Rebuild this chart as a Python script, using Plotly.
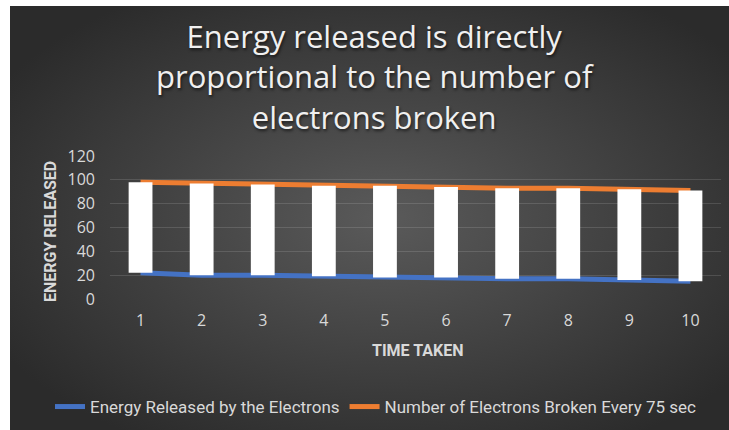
import base64
import plotly.graph_objects as go

# Data
time_taken = [1, 2, 3, 4, 5, 6, 7, 8, 9, 10]
energy_released = [22, 20, 20, 19, 18, 18, 17, 17, 16, 15]
electrons_broken = [98, 97, 96, 95, 95, 94, 93, 93, 92, 91]
y_ticks = [0, 20, 40, 60, 80, 100, 120]
title_lines = ["Energy released is directly",
               "proportional to the number of",
               "electrons broken"]

W, H = 729, 430
# plot-area box in pixels
L, R, T, B = 110, 721, 156, 299
pw, ph = R - L, B - T


def px_x(x):
    return (x - L) / pw


def px_y(y):
    return (B - y) / ph


BLUE = "#4472C4"
ORANGE = "#ED7D31"
TXT = "#d9d9d9"
FONT = "Open Sans, Lato, sans-serif"
SMALL = "Roboto, Open Sans, sans-serif"

# radial dark background
bg_svg = (
    '<svg xmlns="http://www.w3.org/2000/svg" width="719" height="424">'
    '<defs><radialGradient id="g" cx="52%" cy="50%" r="62%">'
    '<stop offset="0%" stop-color="#5a5a5a"/>'
    '<stop offset="100%" stop-color="#2b2b2b"/>'
    '</radialGradient></defs>'
    '<rect width="719" height="424" fill="url(#g)"/></svg>'
)
bg_src = "data:image/svg+xml;base64," + base64.b64encode(bg_svg.encode()).decode()

fig = go.Figure()

fig.add_trace(go.Scatter(
    x=time_taken, y=energy_released, mode="lines",
    name="Energy Released by the Electrons",
    line=dict(color=BLUE, width=5),
))
fig.add_trace(go.Scatter(
    x=time_taken, y=electrons_broken, mode="lines",
    name="Number of Electrons Broken Every 75 sec",
    line=dict(color=ORANGE, width=5),
))

# up bars between the two series, on an overlay axis so they sit above the lines
fig.add_trace(go.Bar(
    x=time_taken,
    y=[o - e for o, e in zip(electrons_broken, energy_released)],
    base=energy_released,
    width=0.39,
    marker=dict(color="white", line=dict(width=0)),
    showlegend=False,
    xaxis="x2", yaxis="y2",
    hoverinfo="skip",
))

annotations = [
    dict(text="<br>".join(title_lines), xref="paper", yref="paper",
         x=px_x(375), y=px_y(77), xanchor="center", yanchor="middle",
         showarrow=False,
         font=dict(family=FONT, size=31, color="#f0f0f0",
                   shadow="1px 2px 3px rgba(0,0,0,0.6)")),
    dict(text="<b>ENERGY RELEASED</b>", textangle=-90,
         xref="paper", yref="paper",
         x=px_x(50), y=px_y(232),
         xanchor="center", yanchor="middle", showarrow=False,
         font=dict(family=SMALL, size=16, color=TXT)),
    dict(text="<b>TIME TAKEN</b>",
         xref="paper", yref="paper",
         x=px_x(417), y=px_y(350),
         xanchor="center", yanchor="middle", showarrow=False,
         font=dict(family=SMALL, size=16, color=TXT)),
]

fig.update_layout(
    width=W, height=H,
    margin=dict(l=L, r=W - R, t=T, b=H - B, autoexpand=False),
    paper_bgcolor="white",
    plot_bgcolor="rgba(0,0,0,0)",
    xaxis=dict(
        range=[0.5, 10.5], tickmode="array", tickvals=time_taken,
        ticktext=[str(t) for t in time_taken],
        showgrid=False, zeroline=False, showline=False, ticks="",
        tickfont=dict(family=FONT, size=16, color=TXT),
        ticklabelstandoff=10,
    ),
    yaxis=dict(
        range=[0, 120], tickmode="array", tickvals=y_ticks,
        showgrid=True, gridcolor="rgba(255,255,255,0.13)", gridwidth=1,
        zeroline=False, showline=False, ticks="",
        tickfont=dict(family=FONT, size=16, color=TXT),
        ticklabelstandoff=14,
    ),
    xaxis2=dict(range=[0.5, 10.5], overlaying="x", visible=False),
    yaxis2=dict(range=[0, 120], overlaying="y", visible=False),
    legend=dict(
        orientation="h", xref="paper", yref="paper",
        x=px_x(50), xanchor="left", y=px_y(407), yanchor="middle",
        font=dict(family=SMALL, size=17, color=TXT),
        bgcolor="rgba(0,0,0,0)", itemwidth=30, tracegroupgap=0,
    ),
    images=[dict(
        source=bg_src, xref="paper", yref="paper",
        x=px_x(10), y=px_y(6),
        sizex=719 / pw, sizey=424 / ph,
        xanchor="left", yanchor="top", sizing="stretch", layer="below",
    )],
    annotations=annotations,
)

fig.write_html("out.html")
